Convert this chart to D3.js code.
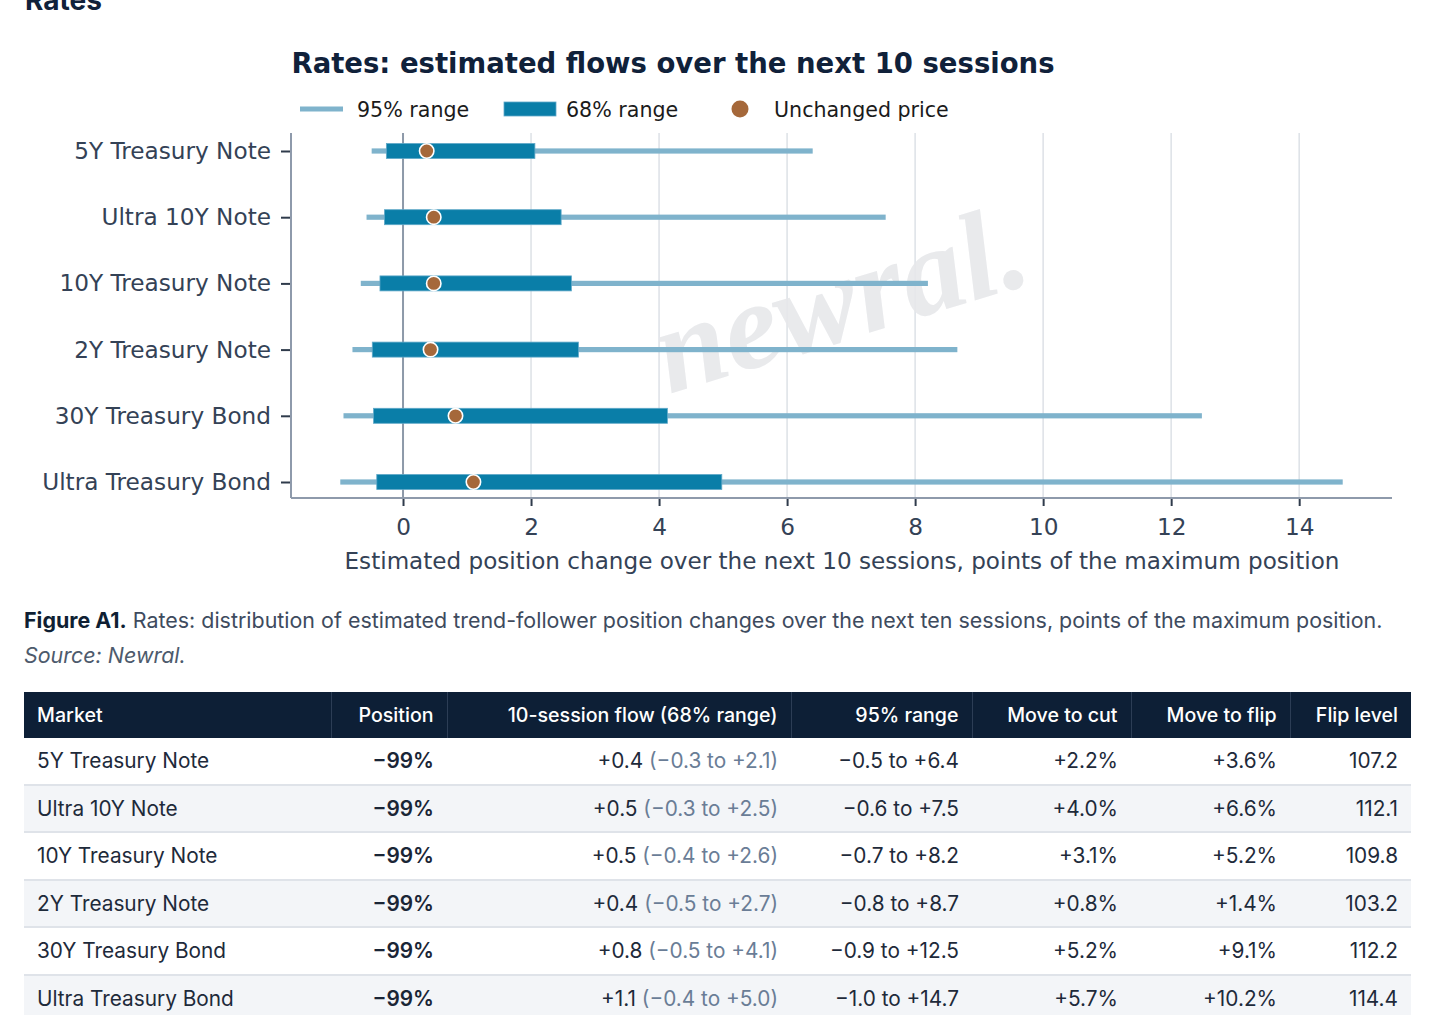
<!DOCTYPE html>
<html>
<head>
<meta charset="utf-8">
<script src="https://cdn.jsdelivr.net/npm/d3@7"></script>
<style>
  html, body { margin: 0; padding: 0; background: #ffffff; }
  body { width: 1434px; height: 1015px; position: relative; overflow: hidden; }
  #chart { position: absolute; left: 0; top: 0; }
  #caption { position: absolute; left: 24px; top: 603px; width: 1400px; font-family: Inter, "Noto Sans", sans-serif; font-size: 21.45px; color: #3e4b5e; line-height: 35px; }
  #caption b { color: #0f1f33; font-weight: 700; }
  #caption i { color: #4d5a6c; }
  #tbl { position: absolute; left: 24px; top: 692px; width: 1387px; border-collapse: collapse; table-layout: fixed; font-family: Inter, "Noto Sans", sans-serif; font-size: 20.8px; }
  #tbl th { background: #0d1f36; color: #ffffff; font-weight: 500; font-size: 19.6px; height: 46px; padding: 0 13px; text-align: right; border-left: 1px solid #2c3d55; }
  #tbl th:first-child { text-align: left; border-left: none; }
  #tbl td { height: 45.5px; padding: 0 13px; text-align: right; color: #1e2a3a; border-bottom: 2px solid #dfe3e9; }
  #tbl td:first-child { text-align: left; }
  #tbl tr.alt td { background: #f3f5f8; }
  #tbl td.pos { font-weight: 600; color: #1a2536; }
  #tbl span.rng { color: #6a7d96; }
</style>
</head>
<body>
<svg id="chart" width="1434" height="1015"></svg>
<div id="caption"></div>
<table id="tbl"></table>
<script>
// ---------------- data ----------------
const markets = ["5Y Treasury Note", "Ultra 10Y Note", "10Y Treasury Note", "2Y Treasury Note", "30Y Treasury Bond", "Ultra Treasury Bond"];
const range95Low  = [-0.49, -0.57, -0.66, -0.79, -0.93, -0.98];
const range95High = [6.40, 7.54, 8.20, 8.66, 12.48, 14.68];
const range68Low  = [-0.26, -0.29, -0.36, -0.48, -0.46, -0.41];
const range68High = [2.06, 2.47, 2.63, 2.74, 4.13, 4.98];
const unchanged   = [0.37, 0.48, 0.48, 0.43, 0.82, 1.10];
const positions   = [-99, -99, -99, -99, -99, -99];
const moveToCut   = [2.2, 4.0, 3.1, 0.8, 5.2, 5.7];
const moveToFlip  = [3.6, 6.6, 5.2, 1.4, 9.1, 10.2];
const flipLevel   = [107.2, 112.1, 109.8, 103.2, 112.2, 114.4];
const xTicks = [0, 2, 4, 6, 8, 10, 12, 14];
const tableHeaders = ["Market", "Position", "10-session flow (68% range)", "95% range", "Move to cut", "Move to flip", "Flip level"];

// ---------------- chart ----------------
const svg = d3.select("#chart");
const C = {
  r95: "#7fb3cc", r68: "#0a7ea8", dot: "#a5683a", grid: "#dfe3e8", spine: "#8e9aab",
  zero: "#8d99a9", text: "#344256", title: "#10213a"
};
const pL = 291, pR = 1392, pT = 133, pB = 497;
const x = d3.scaleLinear().domain([-1.75, 15.45]).range([pL, pR]);
const y = d3.scalePoint().domain(markets).range([151, 482]);

// page heading (cut off at top)
svg.append("text").attr("x", 25).attr("y", 10).attr("font-family", "Inter, 'Noto Sans', sans-serif")
  .attr("font-weight", 700).attr("font-size", 28).attr("fill", "#10213a").text("Rates");

// title
svg.append("text").attr("x", 673).attr("y", 73).attr("text-anchor", "middle")
  .attr("font-family", "DejaVu Sans").attr("font-weight", "bold").attr("font-size", 27.5)
  .attr("fill", C.title).text("Rates: estimated flows over the next 10 sessions");

// legend
const lg = svg.append("g").attr("font-family", "DejaVu Sans").attr("font-size", 20.6).attr("fill", "#1b1b1b");
lg.append("line").attr("x1", 300).attr("x2", 343).attr("y1", 109).attr("y2", 109).attr("stroke", C.r95).attr("stroke-width", 5);
lg.append("text").attr("x", 357).attr("y", 116.5).text("95% range");
lg.append("rect").attr("x", 504).attr("y", 102).attr("width", 52).attr("height", 14).attr("fill", C.r68).attr("stroke", "#5fa8c8").attr("stroke-width", 0.8);
lg.append("text").attr("x", 566).attr("y", 116.5).text("68% range");
lg.append("circle").attr("cx", 740).attr("cy", 109).attr("r", 8.5).attr("fill", C.dot);
lg.append("text").attr("x", 774).attr("y", 116.5).text("Unchanged price");

// gridlines
svg.append("g").selectAll("line").data(xTicks.filter(d => d !== 0)).join("line")
  .attr("x1", d => x(d)).attr("x2", d => x(d)).attr("y1", pT).attr("y2", pB)
  .attr("stroke", C.grid).attr("stroke-width", 1.6);

// watermark
svg.append("text")
  .attr("transform", "translate(852,338) rotate(-17)")
  .attr("text-anchor", "middle")
  .attr("font-family", "Liberation Serif").attr("font-weight", "bold").attr("font-style", "italic")
  .attr("font-size", 124).attr("fill", "#e7e8eb").attr("opacity", 0.9)
  .text("newral.");

// zero line
svg.append("line").attr("x1", x(0)).attr("x2", x(0)).attr("y1", pT).attr("y2", pB)
  .attr("stroke", C.zero).attr("stroke-width", 2);

// 95% range lines
svg.append("g").selectAll("rect").data(markets).join("rect")
  .attr("x", (d, i) => x(range95Low[i])).attr("width", (d, i) => x(range95High[i]) - x(range95Low[i]))
  .attr("y", d => y(d) - 2.6).attr("height", 5.2).attr("fill", C.r95);

// 68% range bars
svg.append("g").selectAll("rect").data(markets).join("rect")
  .attr("x", (d, i) => x(range68Low[i])).attr("width", (d, i) => x(range68High[i]) - x(range68Low[i]))
  .attr("y", d => y(d) - 7.5).attr("height", 15).attr("fill", C.r68)
  .attr("stroke", "#5fa8c8").attr("stroke-width", 0.8);

// unchanged price dots
svg.append("g").selectAll("circle").data(markets).join("circle")
  .attr("cx", (d, i) => x(unchanged[i])).attr("cy", d => y(d)).attr("r", 7.2)
  .attr("fill", C.dot).attr("stroke", "#ffffff").attr("stroke-width", 1.6);

// axes
const yAxis = svg.append("g").attr("transform", `translate(${pL - 1},0)`)
  .call(d3.axisLeft(y).tickSize(9).tickPadding(10));
yAxis.select(".domain").remove();
yAxis.selectAll(".tick line").attr("stroke", "#2f3b4b").attr("stroke-width", 2);
yAxis.selectAll(".tick text").attr("font-family", "DejaVu Sans").attr("font-size", 23.2).attr("fill", C.text);

const xAxis = svg.append("g").attr("transform", `translate(0,${pB + 1})`)
  .call(d3.axisBottom(x).tickValues(xTicks).tickFormat(d3.format("d")).tickSize(8).tickPadding(13));
xAxis.select(".domain").remove();
xAxis.selectAll(".tick line").attr("stroke", "#2f3b4b").attr("stroke-width", 2);
xAxis.selectAll(".tick text").attr("font-family", "DejaVu Sans").attr("font-size", 23.2).attr("fill", C.text);

// spines
svg.append("line").attr("x1", pL).attr("x2", pL).attr("y1", pT).attr("y2", pB + 1)
  .attr("stroke", C.spine).attr("stroke-width", 2);
svg.append("line").attr("x1", pL).attr("x2", pR).attr("y1", pB + 1).attr("y2", pB + 1)
  .attr("stroke", C.spine).attr("stroke-width", 2);

// x label
svg.append("text").attr("x", 842).attr("y", 569).attr("text-anchor", "middle")
  .attr("font-family", "DejaVu Sans").attr("font-size", 23.1).attr("fill", C.text)
  .text("Estimated position change over the next 10 sessions, points of the maximum position");

// ---------------- caption ----------------
d3.select("#caption").html("<b>Figure A1.</b> Rates: distribution of estimated trend-follower position changes over the next ten sessions, points of the maximum position.<br><i>Source: Newral.</i>");

// ---------------- table ----------------
const minus = "\u2212";
const sgn = (v, d) => (v < 0 ? minus : "+") + Math.abs(v).toFixed(d);
const tbl = d3.select("#tbl");
const widths = [307, 116, 344, 181, 159, 159, 121];
tbl.append("colgroup").selectAll("col").data(widths).join("col").style("width", d => d + "px");
tbl.append("thead").append("tr").selectAll("th").data(tableHeaders).join("th").text(d => d);
const rows = tbl.append("tbody").selectAll("tr").data(markets).join("tr").attr("class", (d, i) => i % 2 ? "alt" : null);
rows.append("td").text(d => d);
rows.append("td").attr("class", "pos").text((d, i) => (positions[i] < 0 ? minus : "") + Math.abs(positions[i]) + "%");
rows.append("td").html((d, i) => sgn(unchanged[i], 1) + ' <span class="rng">(' + sgn(range68Low[i], 1) + " to " + sgn(range68High[i], 1) + ")</span>");
rows.append("td").text((d, i) => sgn(range95Low[i], 1) + " to " + sgn(range95High[i], 1));
rows.append("td").text((d, i) => sgn(moveToCut[i], 1) + "%");
rows.append("td").text((d, i) => sgn(moveToFlip[i], 1) + "%");
rows.append("td").text((d, i) => flipLevel[i].toFixed(1));
</script>
</body>
</html>
